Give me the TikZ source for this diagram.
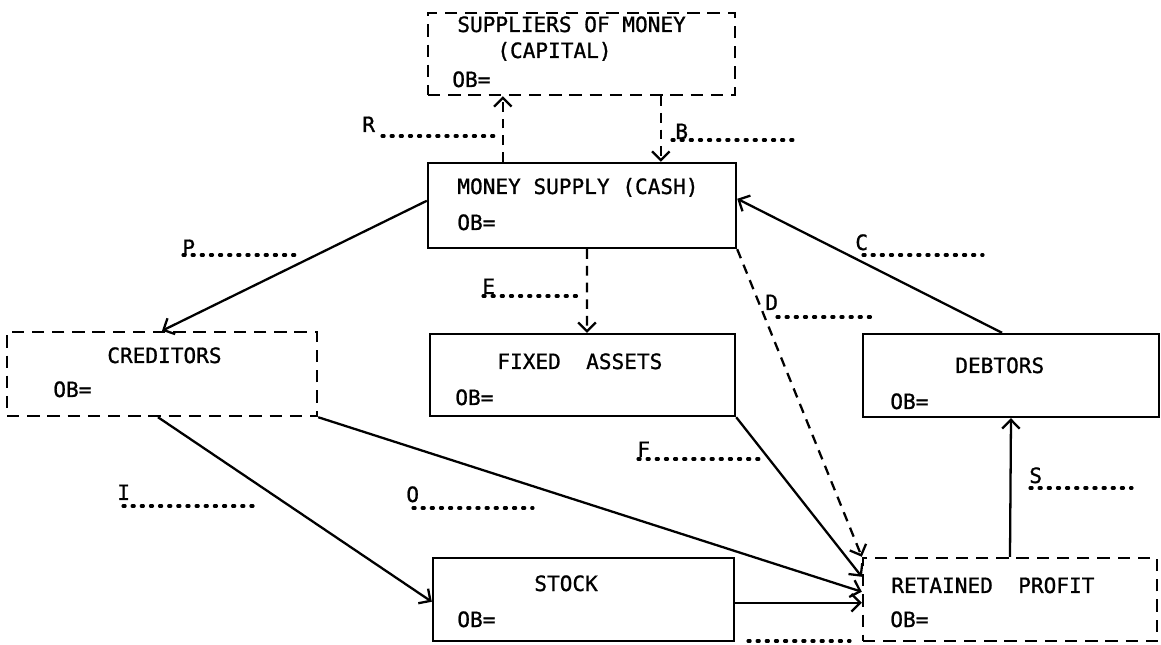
\documentclass[tikz,border=0pt]{standalone}
\usepackage{fontspec}
\newfontfamily\drafont[FakeBold=1]{DejaVu Sans Mono}
\usetikzlibrary{calc,arrows.meta}
\begin{document}
\begin{tikzpicture}[x=0.02cm,y=-0.02cm,
  every node/.style={font=\drafont\fontsize{12}{14}\selectfont, inner sep=0pt},
  solidbox/.style={draw, line width=1.4pt, rectangle},
  dashbox/.style={draw, line width=1.4pt, rectangle, dash pattern=on 7pt off 4.5pt},
  flow/.style={line width=1.3pt, -{Straight Barb[length=5pt,width=10pt,line width=1.3pt]}},
  dflow/.style={flow, dash pattern=on 5.5pt off 4pt},
  blank/.style={line width=1.8pt, line cap=round, dash pattern=on 1.2pt off 4pt},
  txt/.style={anchor=base west}
]
\useasboundingbox (0,0) rectangle (1161,645);

% accounts
\node[dashbox,  minimum width=6.14cm, minimum height=1.64cm] (sup)  at (581.5,54)  {};
\node[solidbox, minimum width=6.16cm, minimum height=1.70cm] (ms)   at (582,205.5) {};
\node[dashbox,  minimum width=6.20cm, minimum height=1.68cm] (cred) at (162,374)   {};
\node[solidbox, minimum width=6.10cm, minimum height=1.64cm] (fa)   at (582.5,375) {};
\node[solidbox, minimum width=5.92cm, minimum height=1.66cm] (deb)  at (1011,375.5) {};
\node[solidbox, minimum width=6.02cm, minimum height=1.66cm] (stk)  at (583.5,599.5) {};
\node[dashbox,  minimum width=5.88cm, minimum height=1.66cm] (rp)   at (1010,599.5) {};

% account titles and opening balances
\node[txt] (supT)  at (457,32)  {SUPPLIERS OF MONEY};
\node[txt] (supC)  at (497,58)  {(CAPITAL)};
\node[txt] (supOB) at (452,87)  {OB=};
\node[txt] (msT)   at (457,194) {MONEY SUPPLY (CASH)};
\node[txt] (msOB)  at (457,230) {OB=};
\node[txt] (credT) at (107,363) {CREDITORS};
\node[txt] (credOB) at (53,397) {OB=};
\node[txt] (faT)   at (497,369) {FIXED\ \ ASSETS};
\node[txt] (faOB)  at (455,405) {OB=};
\node[txt] (debT)  at (955,373) {DEBTORS};
\node[txt] (debOB) at (890,409) {OB=};
\node[txt] (stkT)  at (534,591) {STOCK};
\node[txt] (stkOB) at (457,627) {OB=};
\node[txt] (rpT)   at (891,593) {RETAINED\ \ PROFIT};
\node[txt] (rpOB)  at (890,627) {OB=};

% flows between accounts
\draw[dflow] ($(ms.north west)+(76,0)$) -- ($(sup.south west)+(76,0)$);
\draw[dflow] ($(sup.south west)+(234,0)$) -- ($(ms.north west)+(234,0)$);
\draw[flow]  ($(ms.north west)+(0,39)$) -- (cred.north);
\draw[dflow] ($(ms.south)+(5,0)$) -- ($(fa.north)+(4.5,0)$);
\draw[dflow] (ms.south east) -- (rp.north west);
\draw[flow]  ($(deb.north)+(-9,0)$) -- ($(ms.north east)+(0,37)$);
\draw[flow]  (fa.south east) -- ($(rp.north west)+(0,20)$);
\draw[flow]  (cred.south east) -- ($(rp.north west)+(0,35)$);
\draw[flow]  ($(stk.north east)+(0,46)$) -- ($(rp.north west)+(0,46)$);
\draw[flow]  ($(cred.south)+(-4,0)$) -- ($(stk.north west)+(0,45)$);
\draw[flow]  (rp.north) -- (deb.south);

% flow letters with blanks to fill in
\node[txt] (lR) at (362,132) {R};
\node[txt] (lB) at (675,139) {B};
\node[txt] (lP) at (182,255) {P};
\node[txt] (lE) at (482,294) {E};
\node[txt] (lC) at (855,250) {C};
\node[txt] (lD) at (765,310) {D};
\node[txt] (lF) at (637,457) {F};
\node[txt] (lO) at (406,502) {O};
\node[txt] (lI) at (117,500) {I};
\node[txt] (lS) at (1029,483) {S};

\coordinate (bR1) at (382,136);  \coordinate (bR2) at (497,136);
\coordinate (bB1) at (672,140);  \coordinate (bB2) at (798,140);
\coordinate (bP1) at (183,255);  \coordinate (bP2) at (300,255);
\coordinate (bE1) at (483,296);  \coordinate (bE2) at (580,296);
\coordinate (bC1) at (863,255);  \coordinate (bC2) at (983,255);
\coordinate (bD1) at (777,317);  \coordinate (bD2) at (875,317);
\coordinate (bF1) at (638,459);  \coordinate (bF2) at (760,459);
\coordinate (bO1) at (413,508);  \coordinate (bO2) at (533,508);
\coordinate (bI1) at (123,506);  \coordinate (bI2) at (255,506);
\coordinate (bS1) at (1030,488); \coordinate (bS2) at (1132,488);
\coordinate (bX1) at (748,641);  \coordinate (bX2) at (850,641);
\foreach \b in {R,B,P,E,C,D,F,O,I,S,X}
  \draw[blank] (b\b1) -- (b\b2);
\end{tikzpicture}
\end{document}
